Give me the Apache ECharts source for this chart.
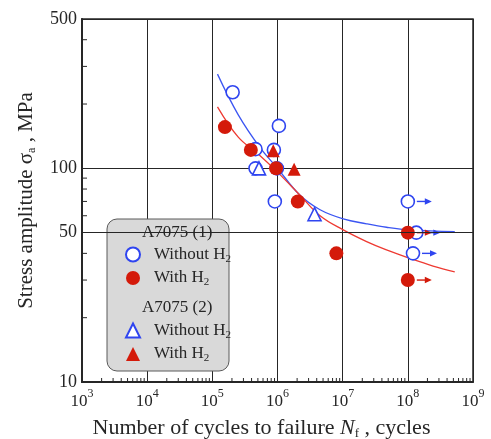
<!DOCTYPE html>
<html>
<head>
<meta charset="utf-8">
<style>
  html, body { margin: 0; padding: 0; background: #fff; }
  #chart { width: 491px; height: 439px; }
</style>
<script src="https://cdn.jsdelivr.net/npm/echarts@6/dist/echarts.min.js"></script>
</head>
<body>
<div id="chart"></div>
<script>
// S-N data for A7075: [cycles to failure, stress amplitude (MPa)]
const a1WithoutH2 = [[2.05e5, 227], [1.05e6, 158], [4.6e5, 123], [8.8e5, 122], [4.6e5, 100], [9.8e5, 100], [9.1e5, 70]];
const a1WithoutH2Runout = [[1e8, 70], [1.35e8, 50], [1.2e8, 40]];
const a1WithH2 = [[1.56e5, 156], [3.9e5, 122], [9.5e5, 100], [2.05e6, 70], [8e6, 40]];
const a1WithH2Runout = [[1e8, 50], [1e8, 30]];
const a2WithoutH2 = [[5.2e5, 100], [3.7e6, 61]];
const a2WithH2 = [[8.6e5, 121], [1.8e6, 99]];

// fitted S-N curves
const curveWithoutH2 = [[1.2e5, 276], [2.5e5, 178], [5.4e5, 125], [1e6, 100], [2.2e6, 75], [4.5e6, 64], [1.02e7, 58], [2.33e7, 55], [4.7e7, 53], [1.07e8, 51.5], [5.25e8, 50.5]];
const curveWithH2 = [[1.2e5, 194], [2.5e5, 140], [5e5, 117], [1e6, 96], [2.2e6, 75], [4.5e6, 60], [1.02e7, 51.5], [2.33e7, 45.4], [4.7e7, 41.5], [1.07e8, 37.9], [2.44e8, 34.9], [5.25e8, 32.8]];

// axis ticks
const yLabelValues = [10, 50, 100, 500];
const yMinorTicks = [20, 30, 40, 60, 70, 80, 90, 200, 300, 400];
const xDecades = [3, 4, 5, 6, 7, 8];
const xMinorMultipliers = [2, 3, 4, 5, 6, 7, 8, 9];

const BLUE = '#2f45f0';
const RED = '#d41a0a';
const FONT = 'Liberation Serif';
const INK = '#262626';

const xMinorTicks = [];
xDecades.forEach(d => xMinorMultipliers.forEach(m => xMinorTicks.push([m * Math.pow(10, d), 10])));

const chart = echarts.init(document.getElementById('chart'), null, { renderer: 'canvas' });

function tickRenderer(dx, dy) {
  return function (params, api) {
    const p = api.coord([api.value(0), api.value(1)]);
    return {
      type: 'line',
      shape: { x1: p[0], y1: p[1], x2: p[0] + dx, y2: p[1] + dy },
      style: { stroke: INK, lineWidth: 1 }
    };
  };
}

function arrowRenderer(color) {
  return function (params, api) {
    const p = api.coord([api.value(0), api.value(1)]);
    const x0 = p[0] + 9, x1 = p[0] + 24;
    return {
      type: 'group',
      children: [
        { type: 'line', shape: { x1: x0, y1: p[1], x2: x1 - 4, y2: p[1] }, style: { stroke: color, lineWidth: 1.4 } },
        { type: 'polygon', shape: { points: [[x1 - 7, p[1] - 3.2], [x1, p[1]], [x1 - 7, p[1] + 3.2]] }, style: { fill: color } }
      ]
    };
  };
}

const subRich = {
  t: { fontFamily: FONT, fontSize: 17, color: INK, lineHeight: 20 },
  s: { fontFamily: FONT, fontSize: 11, color: INK, lineHeight: 20, verticalAlign: 'bottom' },
  g: { width: 9 }
};
function legendLabel(name) {
  const txt = name.indexOf('Without') >= 0 ? 'Without H' : 'With H';
  return '{g|}{t|' + txt + '}{s|2}';
}

const option = {
  animation: false,
  backgroundColor: '#fff',
  grid: {
    left: 82, top: 19, right: 18, bottom: 57, containLabel: false, outerBoundsMode: 'none',
    show: true, borderColor: INK, borderWidth: 1.5, backgroundColor: 'transparent'
  },
  xAxis: {
    type: 'log', logBase: 10, min: 1e3, max: 1e9,
    axisLine: { show: true, onZero: false, lineStyle: { color: INK, width: 2 } },
    axisTick: { show: false },
    splitLine: { show: true, lineStyle: { color: INK, width: 1 } },
    axisLabel: {
      margin: 6,
      formatter: v => '{b|10}{e|' + Math.round(Math.log10(v)) + '}',
      rich: {
        b: { fontFamily: FONT, fontSize: 17, color: INK, lineHeight: 22, verticalAlign: 'bottom' },
        e: { fontFamily: FONT, fontSize: 12, color: INK, lineHeight: 22, verticalAlign: 'top' }
      }
    },
    name: '{t|Number of cycles to failure }{i|N}{s|f}{t| , cycles}',
    nameLocation: 'middle',
    nameGap: 34,
    nameTextStyle: {
      padding: [0, 32, 0, 0],
      rich: {
        t: { fontFamily: FONT, fontSize: 22, color: INK, lineHeight: 24 },
        i: { fontFamily: FONT, fontSize: 22, fontStyle: 'italic', color: INK, lineHeight: 24 },
        s: { fontFamily: FONT, fontSize: 13, color: INK, lineHeight: 24, verticalAlign: 'bottom' }
      }
    }
  },
  yAxis: {
    type: 'log', logBase: 10, min: 10, max: 500,
    axisLine: { show: true, onZero: false, lineStyle: { color: INK, width: 2 } },
    axisTick: { show: false },
    splitLine: { show: true, lineStyle: { color: INK, width: 1 } },
    axisLabel: {
      margin: 5,
      fontFamily: FONT, fontSize: 18, color: INK,
      formatter: v => {
        const r = Math.round(v);
        return yLabelValues.indexOf(r) >= 0 ? String(r) : '';
      }
    },
    name: '{t|Stress amplitude }{g|σ}{s|a}{t| , MPa}',
    nameLocation: 'middle',
    nameRotate: 90,
    nameGap: 44,
    nameTextStyle: {
      rich: {
        t: { fontFamily: FONT, fontSize: 21, color: INK, lineHeight: 24 },
        g: { fontFamily: FONT, fontSize: 21, color: INK, lineHeight: 24 },
        s: { fontFamily: FONT, fontSize: 12, color: INK, lineHeight: 24, verticalAlign: 'bottom' }
      }
    }
  },
  legend: [
    {
      data: ['A7075 (1) Without H2', 'A7075 (1) With H2'],
      orient: 'vertical', left: 120, top: 241, itemWidth: 14, itemHeight: 14, itemGap: 5,
      selectedMode: false, z: 6, formatter: legendLabel, textStyle: { rich: subRich }
    },
    {
      data: ['A7075 (2) Without H2', 'A7075 (2) With H2'],
      orient: 'vertical', left: 120, top: 317, itemWidth: 14, itemHeight: 14, itemGap: 5,
      selectedMode: false, z: 6, formatter: legendLabel, textStyle: { rich: subRich }
    }
  ],
  graphic: [
    { type: 'rect', z: 5, shape: { x: 107, y: 219, width: 122, height: 152, r: 10 }, style: { fill: '#d9d9d9', stroke: '#5a5a5a', lineWidth: 1 } },
    { type: 'text', z: 6, left: 142, top: 224, style: { text: 'A7075 (1)', font: '17px "Liberation Serif"', fill: INK } },
    { type: 'text', z: 6, left: 142, top: 299, style: { text: 'A7075 (2)', font: '17px "Liberation Serif"', fill: INK } }
  ],
  series: [
    { name: 'curve without H2', type: 'line', data: curveWithoutH2, smooth: 0.4, showSymbol: false, silent: true, z: 2,
      lineStyle: { color: '#3b55f2', width: 1.3 } },
    { name: 'curve with H2', type: 'line', data: curveWithH2, smooth: 0.4, showSymbol: false, silent: true, z: 2,
      lineStyle: { color: '#ee3a32', width: 1.3 },
      markLine: {
        silent: true, symbol: 'none', animation: false,
        lineStyle: { color: INK, width: 1, type: 'solid' },
        label: { position: 'start', distance: 5, formatter: '50', fontFamily: FONT, fontSize: 18, color: INK },
        data: [{ yAxis: 50 }]
      } },
    { name: 'A7075 (1) Without H2', type: 'scatter', data: a1WithoutH2.concat(a1WithoutH2Runout), symbol: 'circle', symbolSize: 13, z: 3,
      itemStyle: { color: '#ffffff', borderColor: BLUE, borderWidth: 1.6, opacity: 1 } },
    { name: 'A7075 (2) Without H2', type: 'scatter', data: a2WithoutH2, symbol: 'triangle', symbolSize: 13, z: 3,
      itemStyle: { color: '#ffffff', borderColor: BLUE, borderWidth: 1.6, opacity: 1 } },
    { name: 'A7075 (1) With H2', type: 'scatter', data: a1WithH2.concat(a1WithH2Runout), symbol: 'circle', symbolSize: 14, z: 4,
      itemStyle: { color: RED, opacity: 1 } },
    { name: 'A7075 (2) With H2', type: 'scatter', data: a2WithH2, symbol: 'triangle', symbolSize: 13, z: 4,
      itemStyle: { color: RED, opacity: 1 } },
    { name: 'runout without H2', type: 'custom', data: a1WithoutH2Runout, renderItem: arrowRenderer(BLUE), clip: false, silent: true, z: 3 },
    { name: 'runout with H2', type: 'custom', data: a1WithH2Runout, renderItem: arrowRenderer(RED), clip: false, silent: true, z: 4 },
    { name: 'y minor ticks', type: 'custom', data: yMinorTicks.map(v => [1e3, v]), renderItem: tickRenderer(5, 0), clip: false, silent: true, z: 1 },
    { name: 'x minor ticks', type: 'custom', data: xMinorTicks, renderItem: tickRenderer(0, -4), clip: false, silent: true, z: 1 }
  ]
};

chart.setOption(option);
</script>
</body>
</html>
